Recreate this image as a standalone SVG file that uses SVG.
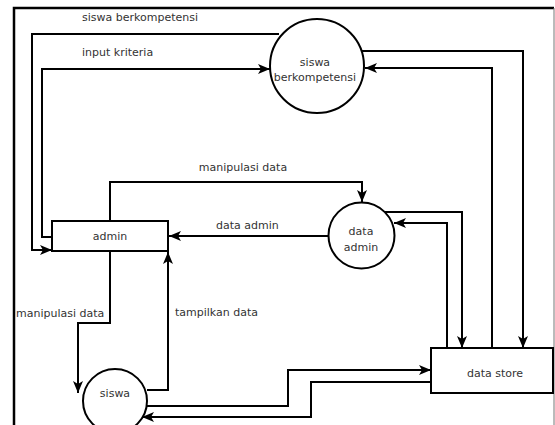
<svg xmlns="http://www.w3.org/2000/svg" width="555" height="425" viewBox="0 0 555 425">
<defs>
<marker id="arr" viewBox="0 0 12 10" refX="12" refY="5" markerWidth="12" markerHeight="10" markerUnits="userSpaceOnUse" orient="auto">
<path d="M0,0 L12,5 L0,10 L3,5 z" fill="#000"/>
</marker>
</defs>
<style>
.ln{fill:none;stroke:#000;stroke-width:2;marker-end:url(#arr)}
.nd{fill:#fff;stroke:#000;stroke-width:2}
text{font-family:"DejaVu Sans",Verdana,sans-serif;font-size:11px;fill:#333}
.c{text-anchor:middle}
</style>
<rect width="555" height="425" fill="#fff"/>
<g id="frame">
<path d="M14,425 L14,8 L554,8" fill="none" stroke="#000" stroke-width="2.5"/>
<path d="M554,8 L554,425" fill="none" stroke="#777" stroke-width="1"/>
</g>
<g id="connectors">
<path class="ln" d="M279,34 L32,34 L32,250 L52,250"/>
<path class="ln" d="M52,237 L42,237 L42,69 L270,69"/>
<path class="ln" d="M361,51 L523,51 L523,348"/>
<path class="ln" d="M492,348 L492,68 L365,68"/>
<path class="ln" d="M110,221 L110,182 L362,182 L362,202"/>
<path class="ln" d="M329,236 L169,236"/>
<path class="ln" d="M385,212 L462,212 L462,348"/>
<path class="ln" d="M447,348 L447,223 L394,223"/>
<path class="ln" d="M110,251 L110,323 L78,323 L78,393"/>
<path class="ln" d="M147,390 L168,390 L168,252"/>
<path class="ln" d="M146,406 L288,406 L288,370 L431,370"/>
<path class="ln" d="M431,382 L311,382 L311,417 L142,417"/>
<text x="82" y="21">siswa berkompetensi</text>
<text x="82" y="56">input kriteria</text>
<text x="243" y="171" class="c">manipulasi data</text>
<text x="216" y="229">data admin</text>
<text x="16" y="317">manipulasi data</text>
<text x="175" y="316">tampilkan data</text>
</g>
<g id="siswa-berkompetensi">
<circle class="nd" cx="317" cy="66" r="47"/>
<text x="315" y="66" class="c">siswa</text>
<text x="315" y="81" class="c">berkompetensi</text>
</g>
<g id="admin">
<rect class="nd" x="52" y="221" width="116" height="30"/>
<text x="110" y="240" class="c">admin</text>
</g>
<g id="data-admin">
<circle class="nd" cx="361.5" cy="235.5" r="33"/>
<text x="361" y="235" class="c">data</text>
<text x="361" y="251" class="c">admin</text>
</g>
<g id="siswa">
<circle class="nd" cx="115" cy="401" r="32"/>
<text x="115" y="397" class="c">siswa</text>
</g>
<g id="data-store">
<rect class="nd" x="431" y="348" width="122" height="45"/>
<text x="495" y="377" class="c">data store</text>
</g>
</svg>
